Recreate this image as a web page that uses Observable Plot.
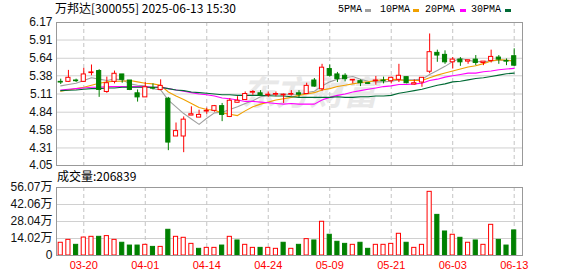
<!DOCTYPE html>
<html><head><meta charset="utf-8">
<script src="https://cdn.jsdelivr.net/npm/d3@7"></script>
<script src="https://cdn.jsdelivr.net/npm/@observablehq/plot@0.6"></script>
<style>
body{margin:0;background:#fff;}
#wrap{position:relative;width:578px;height:276px;overflow:hidden;background:#fff;}
#wrap svg{position:absolute;left:0;}
.t{position:absolute;white-space:nowrap;color:#000;font-family:"Noto Sans CJK SC",sans-serif;font-size:12px;line-height:14px;}
.lg{position:absolute;white-space:nowrap;color:#000;font-family:"Liberation Mono",monospace;font-size:10px;line-height:12px;}
.dash{position:absolute;width:6px;height:3px;}
</style></head><body><div id="wrap"></div>
<script>
// ---------- data ----------
const dates = ["03-17","03-18","03-19","03-20","03-21","03-24","03-25","03-26","03-27","03-28",
"03-31","04-01","04-02","04-03","04-07","04-08","04-09","04-10","04-11","04-14",
"04-15","04-16","04-17","04-18","04-21","04-22","04-23","04-24","04-25","04-28",
"04-29","04-30","05-06","05-07","05-08","05-09","05-12","05-13","05-14","05-15",
"05-16","05-19","05-20","05-21","05-22","05-23","05-26","05-27","05-28","05-29",
"05-30","06-03","06-04","06-05","06-06","06-09","06-10","06-11","06-12","06-13"];
const open = [5.29,5.29,5.31,5.29,5.42,5.45,5.14,5.29,5.40,5.31,
5.12,5.06,5.20,5.17,5.04,4.48,4.48,4.79,4.76,4.85,
4.86,4.93,4.77,4.98,5.02,5.13,5.12,5.09,5.10,5.09,
5.10,5.12,5.11,5.31,5.18,5.48,5.40,5.38,5.31,5.30,
5.27,5.30,5.31,5.30,5.32,5.36,5.25,5.28,5.44,5.72,
5.69,5.58,5.62,5.59,5.62,5.57,5.60,5.65,5.60,5.67];
const high = [5.33,5.46,5.33,5.49,5.54,5.47,5.36,5.45,5.40,5.31,
5.17,5.28,5.26,5.32,5.06,4.68,4.77,4.92,4.87,4.90,
4.94,4.97,5.04,5.07,5.14,5.16,5.16,5.14,5.14,5.11,
5.16,5.16,5.27,5.34,5.55,5.54,5.43,5.41,5.32,5.32,
5.28,5.37,5.36,5.36,5.55,5.36,5.32,5.35,6.00,5.76,
5.75,5.65,5.65,5.61,5.68,5.59,5.76,5.68,5.63,5.78];
const low = [5.25,5.28,5.28,5.28,5.38,5.06,5.12,5.26,5.27,5.16,
4.99,5.06,5.17,5.16,4.27,4.48,4.24,4.79,4.76,4.81,
4.84,4.70,4.76,4.98,5.02,5.09,5.09,5.06,5.07,4.97,
5.08,5.05,5.11,5.21,5.15,5.36,5.28,5.29,5.26,5.22,
5.25,5.24,5.26,5.26,5.28,5.26,5.24,5.21,5.41,5.58,
5.55,5.48,5.52,5.55,5.53,5.53,5.57,5.55,5.53,5.52];
const close = [5.28,5.35,5.30,5.40,5.43,5.17,5.27,5.41,5.32,5.17,
5.06,5.21,5.19,5.23,4.39,4.56,4.73,4.81,4.80,4.86,
4.93,4.80,5.01,5.01,5.11,5.14,5.09,5.10,5.11,5.10,
5.11,5.10,5.23,5.22,5.50,5.38,5.33,5.33,5.32,5.27,
5.26,5.31,5.30,5.35,5.38,5.27,5.27,5.35,5.73,5.68,
5.58,5.62,5.58,5.61,5.57,5.59,5.66,5.62,5.59,5.53];
// volume in 万
const volume = [10.5,12.9,8.8,14.8,15.4,15.4,16.0,12.9,10.5,8.2,
8.2,8.8,7.1,7.1,21.2,15.4,14.6,9.6,5.5,6.3,
6.3,8.2,15.4,12.4,8.8,6.3,6.3,6.3,5.5,10.5,
5.5,8.8,13.5,12.4,27.8,17.1,11.3,9.6,8.8,10.5,
5.5,8.8,8.8,9.6,17.9,10.5,6.3,8.8,52.5,33.5,
19.8,17.1,14.6,10.5,12.4,8.8,25.3,12.9,8.2,20.68];
// 1 = up day (red), 0 = down day (green) for the volume bars
const volUp = [1,1,0,1,1,0,1,1,0,0, 0,1,0,1,0,1,1,1,0,1,
1,0,1,0,1,1,0,1,1,0, 1,0,1,0,1,0,0,0,1,0,
0,1,1,1,1,0,1,1,1,0, 0,1,0,1,0,1,1,0,0,0];
const ma5 = [5.23,5.25,5.27,5.31,5.35,5.33,5.31,5.33,5.32,5.26,
5.24,5.23,5.19,5.17,5.02,4.92,4.82,4.74,4.66,4.75,
4.83,4.84,4.88,4.92,4.97,5.01,5.07,5.09,5.11,5.11,
5.10,5.10,5.13,5.15,5.23,5.29,5.33,5.35,5.37,5.33,
5.30,5.29,5.29,5.30,5.32,5.32,5.32,5.33,5.40,5.46,
5.52,5.59,5.64,5.61,5.59,5.59,5.60,5.61,5.61,5.60];
const ma10 = [5.15,5.17,5.19,5.21,5.24,5.27,5.29,5.30,5.30,5.31,
5.29,5.27,5.26,5.24,5.14,5.08,5.03,4.97,4.91,4.88,
4.87,4.83,4.81,4.79,4.86,4.92,4.96,4.99,5.02,5.04,
5.06,5.09,5.11,5.13,5.17,5.19,5.22,5.24,5.26,5.28,
5.29,5.31,5.32,5.33,5.32,5.31,5.31,5.31,5.35,5.39,
5.42,5.45,5.48,5.51,5.53,5.56,5.60,5.62,5.61,5.60];
const ma20 = [5.17,5.18,5.19,5.20,5.21,5.21,5.22,5.22,5.22,5.22,
5.22,5.22,5.21,5.21,5.19,5.17,5.15,5.13,5.11,5.10,
5.08,5.05,5.04,5.02,5.00,5.00,4.99,4.98,4.97,4.96,
4.97,4.96,4.96,4.96,5.02,5.06,5.09,5.11,5.14,5.16,
5.18,5.20,5.22,5.23,5.25,5.25,5.26,5.27,5.31,5.33,
5.36,5.38,5.40,5.42,5.42,5.44,5.45,5.47,5.48,5.49];
const ma30 = [5.16,5.165,5.17,5.18,5.19,5.19,5.20,5.20,5.21,5.21,
5.21,5.21,5.21,5.21,5.19,5.17,5.16,5.14,5.13,5.12,
5.11,5.10,5.10,5.09,5.09,5.09,5.09,5.085,5.08,5.08,
5.07,5.06,5.06,5.06,5.06,5.06,5.07,5.06,5.06,5.07,
5.07,5.08,5.08,5.09,5.12,5.14,5.16,5.18,5.21,5.24,
5.26,5.29,5.30,5.32,5.34,5.35,5.37,5.39,5.41,5.42];
const priceTicks = [4.05,4.31,4.58,4.84,5.11,5.38,5.64,5.91,6.17];
const volTicks = [0,14.02,28.04,42.06,56.07];
const xTickLabels = ["03-20","04-01","04-14","04-24","05-09","05-21","06-03","06-13"];
const maNames = ["5PMA","10PMA","20PMA","30PMA"];
const title = "万邦达[300055] 2025-06-13 15:30";
const volLabel = "成交量:206839";
const watermark = "东方财富";

// ---------- styles ----------
const RED = "#ff0000", GREEN = "#008000";
const maColors = ["#a0a0a0","#f0a000","#ff00ff","#006a35"];
const maSeries = [ma5, ma10, ma20, ma30];
const HW = 0.27;
const xDomain = [-0.55, 60.08];

const idx = d3.range(dates.length);
const bars = idx.map(i => ({i, o: open[i], h: high[i], l: low[i], c: close[i],
  up: close[i] >= open[i], v: volume[i], vUp: volUp[i] === 1}));
const maData = maSeries.flatMap((s, k) => s.map((v, i) => ({i, v, k})));
const tickIdx = xTickLabels.map(l => dates.indexOf(l));

const axisFont = {fontFamily: "Liberation Sans, Noto Sans CJK SC, sans-serif", fontSize: 12, fill: "#111"};

const price = Plot.plot({
  width: 578, height: 178, marginLeft: 56, marginRight: 56, marginTop: 22, marginBottom: 13,
  x: {domain: xDomain, axis: null},
  y: {domain: [4.05, 6.17], axis: null},
  color: {type: "identity"},
  style: {background: "transparent"},
  marks: [
    Plot.gridY(priceTicks, {stroke: "#d0d0d0", strokeOpacity: 1}),
    Plot.ruleX(tickIdx, {stroke: "#c4c4c4", strokeDasharray: "4,3"}),
    Plot.text([watermark], {frameAnchor: "middle", dx: 20, fontSize: 34, fontWeight: "bold", fontStyle: "italic",
      fill: "#e8e8e8", fontFamily: "Noto Sans CJK SC"}),
    Plot.line(maData, {x: "i", y: "v", z: "k", stroke: d => maColors[d.k], strokeWidth: 1.1}),
    Plot.ruleX(bars, {x: "i", y1: "l", y2: "h", stroke: d => d.up ? RED : GREEN, strokeWidth: 1}),
    Plot.rect(bars, {x1: d => d.i - HW, x2: d => d.i + HW, y1: "o", y2: "c", inset: 0,
      fill: d => d.up ? "#fff" : GREEN, stroke: d => d.up ? RED : GREEN, strokeWidth: 1}),
    Plot.frame({stroke: "#999"}),
    Plot.axisY(priceTicks, {label: null, tickSize: 0, tickPadding: 4, tickFormat: d => d.toFixed(2), ...axisFont})
  ]
});

const vol = Plot.plot({
  width: 578, height: 98, marginLeft: 56, marginRight: 56, marginTop: 9, marginBottom: 21,
  x: {domain: xDomain, axis: null},
  y: {domain: [0, 56.07], axis: null},
  color: {type: "identity"},
  style: {background: "transparent"},
  marks: [
    Plot.gridY(volTicks, {stroke: "#d0d0d0", strokeOpacity: 1}),
    Plot.ruleX(tickIdx, {stroke: "#c4c4c4", strokeDasharray: "4,3"}),
    Plot.rect(bars, {x1: d => d.i - HW, x2: d => d.i + HW, y1: 0, y2: "v", inset: 0,
      fill: d => d.vUp ? "#fff" : GREEN, stroke: d => d.vUp ? RED : GREEN, strokeWidth: 1}),
    Plot.frame({stroke: "#999"}),
    Plot.axisY(volTicks, {label: null, tickSize: 0, tickPadding: 4, tickFormat: d => d === 0 ? "0" : d.toFixed(2) + "万", ...axisFont}),
    Plot.axisX(tickIdx, {label: null, tickSize: 0, tickPadding: 6, tickFormat: i => dates[i], fill: RED,
      fontFamily: "Liberation Sans, sans-serif", fontSize: 11})
  ]
});

const wrap = document.getElementById("wrap");
price.style.top = "0px";
vol.style.top = "178px";
wrap.appendChild(price);
wrap.appendChild(vol);

function addDiv(cls, text, left, top) {
  const d = document.createElement("div");
  d.className = cls; d.textContent = text;
  d.style.left = left + "px"; d.style.top = top + "px";
  wrap.appendChild(d); return d;
}
addDiv("t", title, 55, 1);
addDiv("t", volLabel, 57, 169);
const lgLeft = [338, 380, 425, 471];
const dashLeft = [365, 413, 460, 505];
maNames.forEach((n, k) => {
  addDiv("lg", n, lgLeft[k], 4);
  const s = document.createElement("div");
  s.className = "dash"; s.style.left = dashLeft[k] + "px"; s.style.top = "9px";
  s.style.background = maColors[k];
  wrap.appendChild(s);
});
</script></body></html>
